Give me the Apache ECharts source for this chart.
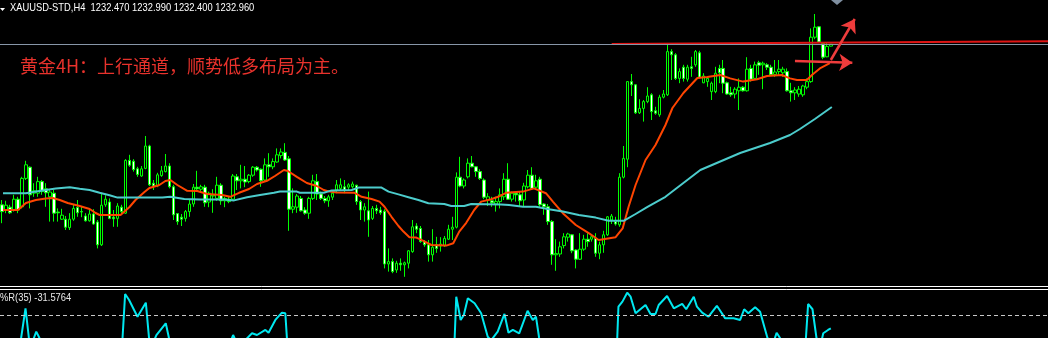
<!DOCTYPE html>
<html>
<head>
<meta charset="utf-8">
<script src="https://cdn.jsdelivr.net/npm/echarts@6/dist/echarts.min.js"></script>
<style>
html,body{margin:0;padding:0;background:#000;}
#chart{width:1048px;height:338px;}
</style>
</head>
<body>
<div id="chart"></div>
<script>
// ---- data ----
const symbolTitle = 'XAUUSD-STD,H4  1232.470 1232.990 1232.400 1232.960';
const noteText = '黄金4H：上行通道，顺势低多布局为主。';
const wprLabel = '%R(35) -31.5764';
const lastClose = 1232.96;
const wprLevel = -20;
const slotCount = 263;
const categories = Array.from({length: slotCount}, (_, i) => String(i));

// [open, close, low, high]
const ohlc = [
[1192.8,1191.1,1188.2,1194.0],[1191.5,1192.7,1190.7,1193.8],[1192.2,1190.8,1190.5,1192.8],[1191.5,1194.2,1191.1,1195.3],
[1194.2,1191.5,1190.7,1194.8],[1192.3,1199.4,1191.9,1199.8],[1199.4,1202.8,1199.0,1203.8],[1202.2,1195.3,1191.9,1202.4],
[1195.7,1196.3,1194.8,1198.2],[1195.7,1198.6,1194.8,1199.8],[1198.6,1196.1,1195.3,1199.0],[1196.8,1195.8,1192.3,1198.2],
[1194.8,1196.0,1188.6,1196.5],[1195.7,1190.7,1188.6,1196.5],[1191.0,1190.8,1188.6,1191.9],[1189.2,1190.2,1189.0,1191.8],
[1189.2,1187.2,1186.5,1190.0],[1187.1,1189.2,1186.5,1190.7],[1189.2,1191.9,1188.8,1192.8],[1192.1,1190.8,1189.8,1194.0],
[1191.1,1191.0,1189.7,1192.5],[1190.0,1188.8,1188.6,1190.7],[1188.8,1190.5,1188.6,1191.5],[1190.5,1188.0,1187.8,1191.7],
[1188.5,1182.8,1181.9,1189.0],[1182.8,1192.7,1182.5,1195.7],[1192.8,1194.2,1192.3,1195.2],[1193.5,1189.4,1189.2,1194.4],
[1189.7,1189.3,1187.3,1191.5],[1189.4,1192.5,1187.3,1193.2],[1192.2,1191.1,1190.7,1192.8],[1190.7,1203.9,1190.5,1204.2],
[1203.9,1202.7,1202.3,1205.3],[1203.7,1201.6,1201.1,1204.2],[1201.8,1200.4,1199.8,1202.3],[1200.0,1201.8,1199.8,1202.5],
[1201.9,1207.5,1201.7,1210.0],[1207.5,1197.8,1197.5,1207.8],[1198.2,1197.5,1196.5,1199.0],[1197.5,1200.3,1197.2,1200.8],
[1200.1,1201.3,1199.8,1202.5],[1201.1,1202.5,1200.9,1205.5],[1202.5,1197.3,1196.9,1203.2],[1197.3,1190.3,1189.0,1197.8],
[1190.6,1188.6,1187.8,1190.7],[1189.7,1189.2,1187.5,1190.5],[1189.4,1191.1,1188.6,1191.5],[1191.1,1193.0,1189.8,1194.0],
[1193.0,1197.2,1192.3,1198.0],[1197.2,1196.8,1196.5,1201.3],[1196.7,1197.3,1196.1,1197.8],[1197.2,1193.3,1192.3,1197.8],
[1193.5,1195.7,1192.2,1196.1],[1195.0,1195.2,1190.8,1196.7],[1194.4,1197.7,1193.8,1199.8],[1197.7,1193.8,1192.8,1198.2],
[1193.8,1194.4,1192.2,1194.8],[1194.2,1193.6,1193.2,1194.8],[1194.2,1200.0,1193.8,1200.5],[1199.8,1198.8,1196.5,1200.5],
[1198.8,1199.2,1196.9,1202.8],[1199.2,1198.5,1197.2,1202.5],[1198.6,1200.2,1198.2,1200.5],[1200.2,1202.2,1199.8,1202.5],
[1202.2,1201.5,1201.1,1202.5],[1201.7,1198.8,1197.3,1201.9],[1199.0,1202.8,1198.6,1204.4],[1202.8,1202.3,1199.8,1205.7],
[1202.3,1203.6,1201.7,1204.4],[1203.5,1205.3,1203.3,1206.9],[1205.1,1206.0,1204.4,1206.9],[1205.9,1204.0,1203.8,1208.2],
[1204.3,1191.7,1186.3,1205.0],[1191.7,1192.3,1190.7,1196.9],[1192.2,1195.0,1190.8,1195.5],[1194.4,1191.3,1191.1,1195.0],
[1191.5,1190.7,1190.3,1192.2],[1190.7,1194.4,1189.3,1194.8],[1194.4,1198.8,1194.0,1200.3],[1198.6,1195.5,1194.0,1200.5],
[1195.5,1194.4,1194.0,1196.1],[1194.4,1193.8,1193.2,1195.0],[1193.8,1194.8,1192.3,1195.3],[1194.7,1195.7,1194.0,1196.1],
[1196.5,1197.8,1195.7,1199.0],[1196.9,1197.8,1196.5,1199.4],[1197.3,1196.5,1195.7,1199.0],[1197.2,1197.8,1196.5,1198.2],
[1197.3,1198.0,1196.9,1198.6],[1197.7,1193.6,1192.8,1197.8],[1193.6,1191.5,1189.0,1194.0],[1191.5,1192.3,1188.6,1193.2],
[1191.3,1189.0,1184.8,1196.1],[1189.4,1191.9,1189.0,1192.5],[1191.9,1191.3,1190.5,1192.8],[1191.5,1190.8,1190.3,1192.3],
[1191.2,1178.0,1176.9,1191.7],[1178.0,1178.6,1176.1,1181.9],[1178.6,1176.1,1175.7,1179.4],[1176.5,1178.2,1175.8,1178.8],
[1178.2,1177.8,1176.3,1179.4],[1177.8,1178.3,1174.8,1178.6],[1178.2,1181.3,1176.9,1181.5],[1181.1,1187.3,1180.8,1189.0],
[1187.5,1186.7,1185.7,1188.2],[1186.9,1183.6,1183.3,1187.5],[1183.6,1182.8,1182.3,1184.0],[1182.8,1180.3,1178.6,1184.0],
[1180.3,1182.2,1178.6,1186.7],[1182.8,1181.9,1180.8,1184.8],[1182.5,1183.0,1181.1,1184.7],[1182.5,1184.4,1182.3,1185.0],
[1184.2,1186.7,1184.0,1187.8],[1186.7,1187.2,1184.0,1189.8],[1187.2,1199.7,1186.9,1200.9],[1199.7,1197.5,1197.2,1204.8],
[1197.5,1199.0,1196.9,1199.4],[1199.8,1203.2,1199.4,1204.4],[1203.2,1202.3,1202.2,1205.0],[1202.3,1201.1,1199.8,1202.5],
[1201.1,1199.4,1199.0,1201.7],[1199.0,1194.7,1194.2,1199.4],[1194.0,1194.8,1192.5,1195.7],[1193.8,1193.3,1192.3,1194.8],
[1193.0,1193.6,1191.1,1194.8],[1193.6,1195.3,1191.9,1196.9],[1194.8,1199.2,1194.0,1200.7],[1199.2,1194.2,1194.0,1203.2],
[1194.2,1195.7,1193.6,1196.1],[1195.7,1195.3,1193.6,1196.1],[1195.3,1193.8,1192.3,1196.1],[1194.0,1197.5,1192.3,1198.3],
[1197.3,1200.2,1196.9,1201.5],[1200.2,1196.9,1196.5,1202.2],[1197.2,1198.8,1196.7,1200.3],[1199.2,1192.8,1192.3,1199.8],
[1193.0,1192.3,1190.3,1193.2],[1192.3,1188.6,1187.8,1193.0],[1188.6,1180.3,1177.8,1189.0],[1180.3,1180.6,1176.3,1184.2],
[1180.5,1182.3,1179.8,1183.6],[1182.6,1184.8,1181.9,1185.7],[1184.7,1185.5,1183.6,1185.8],[1185.3,1181.3,1180.7,1185.5],
[1181.5,1179.2,1176.9,1181.7],[1179.2,1181.7,1179.0,1185.7],[1181.7,1184.2,1181.3,1185.3],[1184.2,1183.6,1182.3,1185.7],
[1184.2,1184.8,1183.6,1185.3],[1184.4,1180.7,1179.8,1185.7],[1180.7,1182.8,1179.2,1183.6],[1182.8,1185.3,1180.8,1186.3],
[1185.3,1189.8,1185.0,1190.0],[1189.0,1190.0,1188.0,1190.5],[1188.6,1188.0,1187.6,1189.8],[1187.8,1199.7,1187.3,1200.7],
[1199.7,1204.4,1199.4,1207.5],[1204.2,1223.6,1202.2,1223.7],[1223.6,1222.8,1220.0,1225.5],[1222.8,1215.8,1215.5,1223.0],
[1215.8,1216.9,1215.5,1219.2],[1216.9,1218.6,1213.6,1219.0],[1218.6,1220.0,1218.2,1222.2],[1220.3,1216.1,1214.0,1220.7],
[1216.3,1215.7,1215.3,1217.3],[1215.3,1219.7,1214.8,1220.3],[1219.7,1220.5,1219.4,1221.5],[1220.3,1231.1,1220.0,1233.2],
[1231.1,1230.3,1224.0,1231.7],[1230.3,1224.4,1224.0,1230.7],[1224.4,1226.1,1223.2,1226.9],[1227.2,1224.4,1223.6,1227.8],
[1224.2,1227.2,1223.6,1227.8],[1227.3,1226.9,1224.8,1229.8],[1227.8,1231.1,1227.3,1231.5],[1230.8,1224.7,1224.4,1231.3],
[1223.3,1225.0,1223.2,1225.7],[1223.6,1224.4,1222.3,1224.8],[1221.1,1223.2,1219.0,1223.6],[1221.1,1225.7,1220.7,1227.3],
[1226.9,1225.8,1223.2,1227.8],[1226.9,1223.2,1220.7,1229.0],[1223.3,1220.5,1220.3,1223.6],[1220.8,1220.3,1219.8,1222.3],
[1220.5,1221.7,1219.4,1222.2],[1221.3,1222.2,1216.5,1224.4],[1222.2,1221.3,1221.1,1222.5],[1221.3,1226.7,1221.1,1229.7],
[1226.9,1224.2,1223.6,1227.8],[1224.4,1227.8,1224.2,1228.6],[1228.3,1227.7,1225.3,1228.8],[1227.8,1228.2,1221.7,1228.6],
[1227.8,1227.2,1226.5,1228.2],[1227.2,1225.3,1225.0,1227.8],[1225.4,1226.0,1224.8,1229.0],[1226.1,1226.7,1225.3,1229.0],
[1225.8,1226.7,1224.8,1227.3],[1226.1,1221.3,1221.1,1226.9],[1221.3,1220.8,1218.6,1223.3],[1220.8,1221.5,1219.0,1222.2],
[1220.5,1221.7,1219.8,1222.5],[1220.3,1222.5,1219.8,1222.8],[1222.2,1223.6,1221.7,1224.4],[1223.6,1234.7,1223.3,1236.9],
[1234.7,1237.2,1234.2,1240.5],[1237.3,1233.5,1233.2,1237.5],[1233.1,1229.7,1229.2,1233.3],[1229.8,1232.4,1229.7,1233.3],
[1232.47,1232.96,1232.40,1232.99]
];

// moving averages, [bar position, price]
const maFast = [
[0.25,1191.5],[4,1191.5],[6,1193.25],[8.5,1194],[11,1194.4],[12.75,1194.5],[14.5,1194],[16.5,1193.25],[19.5,1192.5],
[22,1191.75],[23.5,1190.75],[24.5,1190.25],[29.75,1190.25],[32,1192.25],[33.5,1194],[35.75,1196],[37,1197],[39.5,1197.75],
[41,1198.75],[42.25,1199],[44,1197.75],[46.5,1196.3],[49,1196.25],[51.5,1195.5],[55.25,1195.25],[57.25,1194.8],[59.5,1195.8],
[62,1196.75],[64,1198],[66.5,1198.8],[68.5,1200],[70.75,1201.5],[71.75,1201.25],[74,1199.8],[76.5,1198.25],[79,1197.5],
[80.75,1196.5],[82.25,1196.1],[84,1195.9],[88.5,1195.8],[90.25,1194.8],[92.75,1194.25],[94.75,1193.6],[96,1192.3],
[97.75,1189.8],[99.5,1187.5],[100.75,1186.1],[102.25,1184.7],[104,1184.6],[105.75,1183.8],[107.75,1182.75],[111.5,1182.6],
[113.25,1183.2],[114.75,1186.1],[116.5,1188.3],[118.5,1191.5],[120.25,1193.6],[122.75,1194.2],[124.5,1194.8],[126.5,1195.8],
[130.75,1196.1],[133.5,1196.9],[136.5,1195.7],[138.25,1193.6],[140.75,1190.7],[144,1187.75],[147.25,1185.7],[149.75,1184],
[154,1184.7],[155.75,1186.9],[157.25,1192.3],[159,1197.75],[161.5,1204],[164,1207.75],[166.5,1212.75],[168.25,1217],
[171,1220.75],[174.5,1224.5],[177,1224.75],[180.25,1225.25],[182.75,1224.4],[186,1223.6],[189.5,1224.2],[192,1225],
[195.75,1225.25],[197.75,1224.4],[199.5,1224],[202,1224],[203.25,1225.25],[205.25,1226.9],[207.75,1228.2]
];
const maSlow = [
[0.25,1195.7],[6,1195.7],[7.75,1196],[11,1196.5],[13.5,1196.9],[17,1197.2],[19.5,1196.8],[22,1196.5],[24.5,1195.8],
[27,1195.2],[29,1194.6],[40.25,1194.6],[42.25,1194.8],[45.75,1194.25],[49.75,1194.1],[55.75,1194.1],[58.25,1193.9],
[61.5,1194.7],[64.75,1195.25],[68.25,1195.8],[69.75,1196.1],[74,1196.1],[74.75,1195.8],[80.75,1195.8],[82.75,1196.4],
[87.75,1196.5],[89.5,1197.1],[95.25,1197.1],[97,1196.1],[99.5,1195.4],[102,1194.7],[104.5,1194],[107,1193.2],[111,1193],
[112.75,1192.5],[116,1192.5],[117.75,1193],[125.25,1192.9],[127.25,1192.75],[130.75,1192.3],[134,1192.3],[137.25,1191.7],
[140.75,1191.1],[144.75,1190.25],[149,1189.6],[152.25,1188.8],[156,1188.8],[159,1190.5],[162,1192.3],[166.5,1194.8],
[175.25,1201.5],[185.25,1205.75],[192.75,1208.25],[197.75,1210.25],[200.25,1211.75],[204,1214.25],[208.25,1217.25]
];
// Williams %R(35), [bar position, value]
const wpr = [
[0.25,-65],[3.75,-70],[4.8,-40],[5.9,-14.2],[6.75,-40],[7.5,-48],[8,-40],[8.6,-34.5],[9.4,-40],[12,-60],[16,-75],[20,-85],
[24,-90],[27,-70],[30,-50],[30.25,-40],[30.9,-1.7],[31.9,-7],[34,-21.5],[36.1,-9.3],[36.9,-40],[37.5,-48],[38.75,-37.4],
[41.1,-27.2],[41.9,-40],[43,-60],[46,-75],[50,-90],[54,-70],[57.5,-42],[58,-37.4],[59,-45],[61,-42],[62.75,-35.9],
[64,-37.4],[66.1,-33],[66.9,-35.5],[68.6,-24.3],[70.25,-18],[71.1,-18.5],[71.5,-40],[72.5,-85],[76,-80],[80,-78],[84,-72],
[88,-65],[92,-75],[96,-95],[100,-92],[104,-80],[108,-85],[112,-75],[113.2,-55],[113.6,-40],[114,-4.1],[115.1,-24.3],
[115.9,-20],[116.9,-5.5],[118.6,-9.8],[120.25,-18.5],[121.9,-38.9],[122.75,-42],[124.4,-34.5],[126.1,-19.1],[127.1,-35.4],
[128.2,-33],[129.8,-35.9],[130.25,-35.9],[131.9,-16.3],[133.2,-24.3],[134,-21.5],[134.8,-40],[136,-60],[138,-85],[140,-95],
[144,-90],[148,-85],[152,-75],[154,-55],[154.4,-40],[154.7,-12.8],[155.7,-8.4],[156.9,-0.6],[157.75,-4.1],[159,-18.5],
[161.5,-11.3],[162.75,-19.1],[164,-19.1],[164.8,-11.3],[166.9,-3.5],[168.6,-14.2],[170.7,-10.4],[171.7,-15],[173.6,-4.1],
[174.4,-12.8],[175.7,-18],[177.3,-21.5],[179.4,-12],[181.5,-22.9],[183.6,-22.9],[185.25,-24.3],[186.25,-15],[187.3,-18.5],
[189,-13.3],[190.25,-17.1],[192.1,-40],[193.5,-45],[194.4,-35.4],[195.25,-40],[197,-55],[200,-60],[201.5,-48],[201.75,-40],
[202.3,-10.4],[203.4,-15],[204.4,-40],[205.5,-45],[206.1,-35.9],[207.3,-33],[208,-31.58]
];
// drawn objects: resistance line and two arrows, [bar position, price]
const trendLine = [[153,1233.0],[262.5,1233.7]];
const arrowUp = [[208,1229.0],[214,1239.25]];
const arrowFlat = [[199,1228.75],[213.4,1228.3]];

// ---- chart ----
const chart = echarts.init(document.getElementById('chart'), null, {renderer: 'canvas'});
const smallFont = '11px "Liberation Sans", Arial, sans-serif';
const option = {
  backgroundColor: '#000000',
  animation: false,
  grid: [
    {left: -3, top: 0, width: 1052, height: 286},
    {left: -3, top: 289, width: 1052, height: 49}
  ],
  xAxis: [
    {type: 'category', gridIndex: 0, data: categories, boundaryGap: true,
     axisLine: {show: true, onZero: false, lineStyle: {color: '#ffffff', width: 1}},
     axisTick: {show: false}, axisLabel: {show: false}, splitLine: {show: false}},
    {type: 'value', gridIndex: 0, min: -0.5, max: slotCount - 0.5, show: false},
    {type: 'value', gridIndex: 1, min: -0.5, max: slotCount - 0.5, position: 'top',
     axisLine: {show: true, onZero: false, lineStyle: {color: '#ffffff', width: 1}},
     axisTick: {show: false}, axisLabel: {show: false}, splitLine: {show: false}}
  ],
  yAxis: [
    {type: 'value', gridIndex: 0, min: 1172.5, max: 1244, show: false, splitLine: {show: false}},
    {type: 'value', gridIndex: 1, min: -40, max: 2.6, show: false, splitLine: {show: false}}
  ],
  series: [
    {
      type: 'candlestick', xAxisIndex: 0, yAxisIndex: 0, data: ohlc, barWidth: 3,
      itemStyle: {color: '#000000', color0: '#ffffff', borderColor: '#00ff00', borderColor0: '#00ff00', borderWidth: 1},
      markLine: {
        silent: true, symbol: ['none', 'none'], label: {show: false},
        lineStyle: {color: '#8796a8', width: 1, type: 'solid'},
        data: [{yAxis: lastClose}]
      }
    },
    {
      type: 'line', xAxisIndex: 1, yAxisIndex: 0, data: maFast, showSymbol: false, smooth: false,
      lineStyle: {color: '#ff4500', width: 2}, z: 3
    },
    {
      type: 'line', xAxisIndex: 1, yAxisIndex: 0, data: maSlow, showSymbol: false, smooth: false,
      lineStyle: {color: '#4ccccc', width: 2}, z: 3
    },
    {
      type: 'line', xAxisIndex: 1, yAxisIndex: 0, data: trendLine, showSymbol: false,
      lineStyle: {color: '#e01414', width: 2}, z: 4,
      markLine: {
        silent: true, symbol: ['none', 'arrow'], symbolSize: 13, label: {show: false},
        lineStyle: {color: '#ee3c3c', width: 2.5, type: 'solid'},
        data: [
          [{coord: arrowUp[0]}, {coord: arrowUp[1]}],
          [{coord: arrowFlat[0]}, {coord: arrowFlat[1]}]
        ]
      }
    },
    {
      type: 'line', xAxisIndex: 2, yAxisIndex: 1, data: wpr, showSymbol: false, smooth: false, clip: true,
      lineStyle: {color: '#00e8f0', width: 2}, z: 3,
      markLine: {
        silent: true, symbol: ['none', 'none'], label: {show: false},
        lineStyle: {color: '#c8c8c8', width: 1, type: [4, 3]},
        data: [{yAxis: wprLevel}]
      }
    }
  ],
  graphic: [
    {type: 'polygon', shape: {points: [[0, 8], [5, 8], [2.5, 11]]}, style: {fill: '#ffffff'}},
    {type: 'text', x: 10, y: 7.5, scaleX: 0.85,
     style: {text: symbolTitle, x: 0, y: 0, fill: '#ffffff', font: smallFont, verticalAlign: 'middle'}},
    {type: 'text', x: 20, y: 66,
     style: {text: noteText, x: 0, y: 0, fill: '#e8322c', font: '18px "Noto Sans CJK SC", sans-serif', verticalAlign: 'middle'}},
    {type: 'text', x: 0, y: 298, scaleX: 0.85,
     style: {text: wprLabel, x: 0, y: 0, fill: '#e8e8e8', font: smallFont, verticalAlign: 'middle'}},
    {type: 'polygon', shape: {points: [[831, 0], [843, 0], [837, 5]]}, style: {fill: '#7f8fa0'}}
  ]
};
chart.setOption(option);
</script>
</body>
</html>
